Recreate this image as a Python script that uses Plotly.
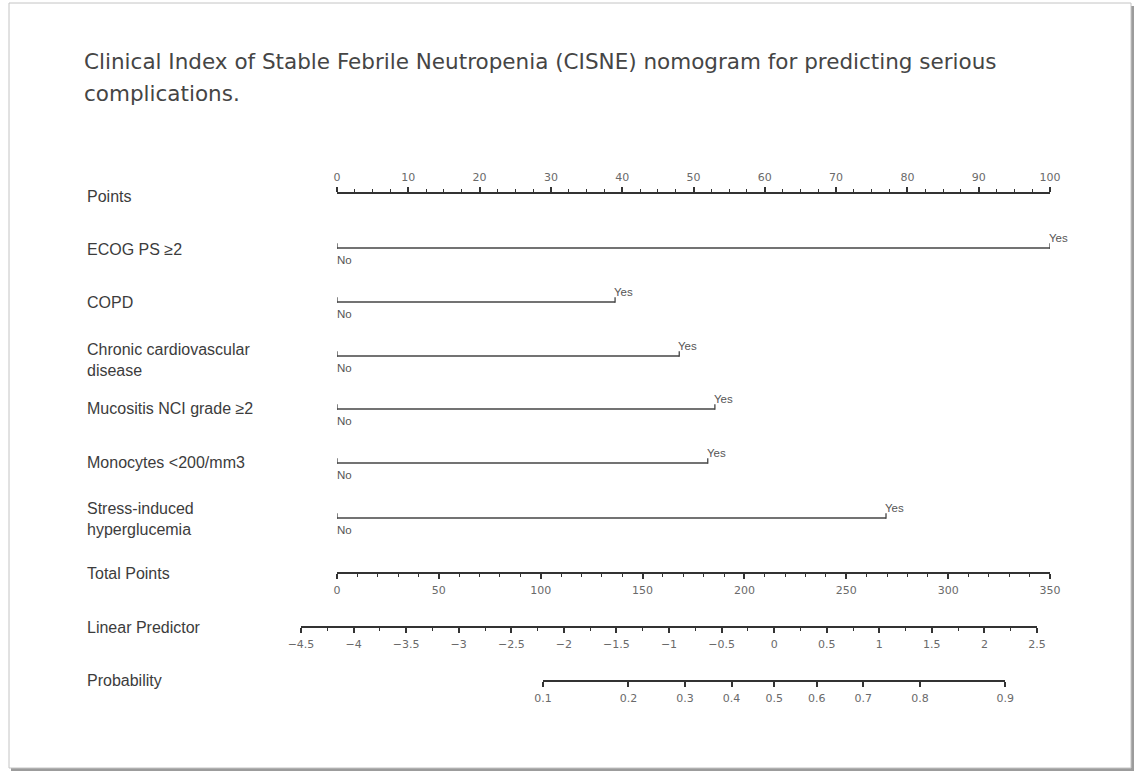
import numpy as np
import plotly.graph_objects as go

# ---------------- data ----------------
title_lines = [
    "Clinical Index of Stable Febrile Neutropenia (CISNE) nomogram for predicting serious",
    "complications.",
]
variables = [
    "ECOG PS \u22652",
    "COPD",
    "Chronic cardiovascular\ndisease",
    "Mucositis NCI grade \u22652",
    "Monocytes <200/mm3",
    "Stress-induced\nhyperglucemia",
]
no_points = [0, 0, 0, 0, 0, 0]
yes_points = [100, 39, 48, 53, 52, 77]
level_labels = ["No", "Yes"]

points_range = [0, 100]
points_dtick, points_minor = 10, 2.5
total_range = [0, 350]
total_dtick, total_minor = 50, 10
lp_range = [-4.5, 2.5]
lp_dtick, lp_minor = 0.5, 0.25
prob_ticks = [0.1, 0.2, 0.3, 0.4, 0.5, 0.6, 0.7, 0.8, 0.9]

# ---------------- layout (pixels) ----------------
W, H = 1139, 773
pts_x0, pts_x1 = 337, 1050
lp_x0, lp_x1 = 301, 1037
row_y = {"points": 193, "total": 573, "lp": 627, "prob": 681}
var_y = [248, 302, 356, 409, 463, 518]
label_x = 85
label_y = {"Points": 196, "Total Points": 573, "Linear Predictor": 627, "Probability": 680}
var_label_y = [250, 302, 360, 408, 462, 519]
line_gap = 21

AXC = "#333333"
TICKC = "#6a6a6a"
LABC = "#3c3c3c"
FONT = "Liberation Sans, Arial, sans-serif"
TFONT = "DejaVu Sans, sans-serif"


def px(x):
    return x / W


def py(y):
    return 1 - y / H


def logit(p):
    return np.log(p / (1 - p))


def lp_to_px(v):
    return lp_x0 + (v - lp_range[0]) / (lp_range[1] - lp_range[0]) * (lp_x1 - lp_x0)


prob_lp = [float(logit(p)) for p in prob_ticks]
prob_x0, prob_x1 = lp_to_px(prob_lp[0]), lp_to_px(prob_lp[-1])

fig = go.Figure()

# variable lines on the Points scale
for i, (name, n0, n1) in enumerate(zip(variables, no_points, yes_points)):
    y = var_y[i]
    fig.add_trace(go.Scatter(
        x=[n0, n1], y=[y, y], mode="lines", xaxis="x", yaxis="y",
        line=dict(color="#444444", width=1.6), hoverinfo="skip", showlegend=False))
    fig.add_trace(go.Scatter(
        x=[n0, n1], y=[y - 2, y - 2], mode="markers", xaxis="x", yaxis="y",
        marker=dict(symbol="line-ns", size=4, line=dict(color="#444444", width=1.3)),
        hoverinfo="skip", showlegend=False))
    fig.add_annotation(x=n0, y=y + 12, xref="x", yref="y", text=level_labels[0],
                       showarrow=False, xanchor="left", yanchor="middle", xshift=-2,
                       font=dict(size=11.5, color="#555555", family=FONT))
    fig.add_annotation(x=n1, y=y - 10, xref="x", yref="y", text=level_labels[1],
                       showarrow=False, xanchor="left", yanchor="middle", xshift=-3,
                       font=dict(size=11.5, color="#555555", family=FONT))
    for k, line in enumerate(name.split("\n")):
        nlines = len(name.split("\n"))
        yy = var_label_y[i] + (k - (nlines - 1) / 2) * line_gap
        fig.add_annotation(x=px(label_x), y=py(yy), xref="paper", yref="paper", text=line,
                           showarrow=False, xanchor="left", yanchor="middle",
                           font=dict(size=16, color=LABC, family=FONT))

# placeholder traces to bind the other axes
for ax in ["x2", "x3", "x4"]:
    fig.add_trace(go.Scatter(x=[], y=[], xaxis=ax, yaxis="y", showlegend=False, hoverinfo="skip"))

for txt, yy in label_y.items():
    fig.add_annotation(x=px(label_x), y=py(yy), xref="paper", yref="paper", text=txt,
                       showarrow=False, xanchor="left", yanchor="middle",
                       font=dict(size=16, color=LABC, family=FONT))

# title
for k, t in enumerate(title_lines):
    fig.add_annotation(x=px(82), y=py(62 + 31 * k), xref="paper", yref="paper", text=t,
                       showarrow=False, xanchor="left", yanchor="middle",
                       font=dict(size=21.5, color="#454545", family=TFONT))

tickfont = dict(size=11, color=TICKC, family=TFONT)
common = dict(showline=True, linecolor=AXC, linewidth=1.5, ticks="outside", tickcolor=AXC,
              tickwidth=1.5, showgrid=False, zeroline=False, anchor="free", tickfont=tickfont,
              fixedrange=True, automargin=False)

fig.update_layout(
    template="none",
    width=W, height=H, margin=dict(l=0, r=0, t=0, b=0, autoexpand=False),
    paper_bgcolor="white", plot_bgcolor="rgba(0,0,0,0)",
    yaxis=dict(range=[H, 0], domain=[0, 1], visible=False, fixedrange=True, automargin=False),
    xaxis=dict(range=points_range, domain=[px(pts_x0), px(pts_x1)], position=py(row_y["points"]),
               side="top", dtick=points_dtick, tick0=0, ticklen=5, ticklabelstandoff=2,
               minor=dict(dtick=points_minor, ticklen=3, tickcolor=AXC, tickwidth=1.3, ticks="outside"),
               **common),
    xaxis2=dict(range=total_range, domain=[px(pts_x0), px(pts_x1)], position=py(row_y["total"]),
                side="bottom", dtick=total_dtick, tick0=0, ticklen=5, ticklabelstandoff=2,
                minor=dict(dtick=total_minor, ticklen=3, tickcolor=AXC, tickwidth=1.3, ticks="outside"),
                **common),
    xaxis3=dict(range=lp_range, domain=[px(lp_x0), px(lp_x1)], position=py(row_y["lp"]),
                side="bottom", dtick=lp_dtick, tick0=0, ticklen=5, ticklabelstandoff=2,
                minor=dict(dtick=lp_minor, ticklen=3, tickcolor=AXC, tickwidth=1.3, ticks="outside"),
                **common),
    xaxis4=dict(range=[prob_lp[0], prob_lp[-1]], domain=[px(prob_x0), px(prob_x1)],
                position=py(row_y["prob"]), side="bottom", tickmode="array",
                tickvals=prob_lp, ticktext=[f"{p:g}" for p in prob_ticks], ticklen=5,
                ticklabelstandoff=2, **common),
    shapes=[
        dict(type="rect", xref="paper", yref="paper", x0=px(11), x1=px(1134), y0=py(771), y1=py(6),
             fillcolor="#9c9c9c", line=dict(width=0), layer="below"),
        dict(type="rect", xref="paper", yref="paper", x0=px(9), x1=px(1131), y0=py(768), y1=py(3),
             fillcolor="white", line=dict(color="#c4c4c4", width=1), layer="below"),
    ],
)

fig.write_html(
    "out.html",
    config={"displayModeBar": False},
    post_script="document.body.style.margin='0';document.body.style.overflow='hidden';",
)
